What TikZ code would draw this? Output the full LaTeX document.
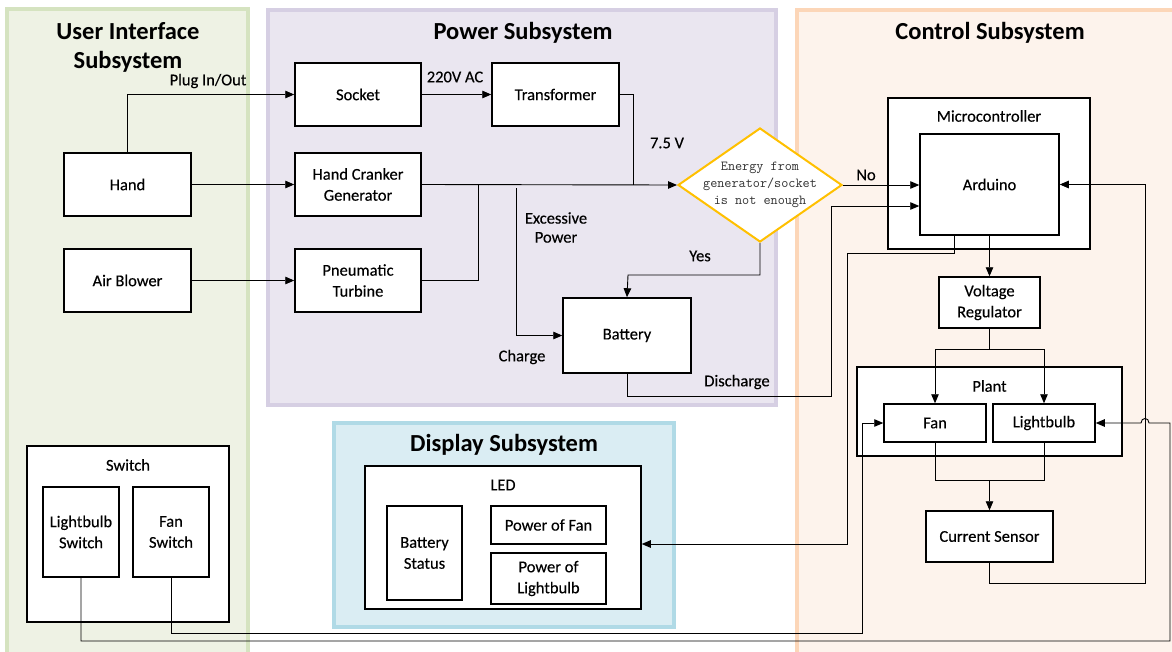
\documentclass[tikz,border=0pt]{standalone}
\usepackage{fontspec}
\setmainfont{Carlito}[UprightFeatures={FakeBold=0.3}]
\usetikzlibrary{arrows.meta,shapes.geometric,calc}
\definecolor{uifill}{HTML}{EEF2E4}
\definecolor{uiline}{HTML}{D5E3C0}
\definecolor{pwfill}{HTML}{EAE6F0}
\definecolor{pwline}{HTML}{D6CFE3}
\definecolor{ctfill}{HTML}{FDF3EC}
\definecolor{ctline}{HTML}{FCD6B8}
\definecolor{dsfill}{HTML}{DAEDF3}
\definecolor{dsline}{HTML}{B0DAE6}
\definecolor{dmline}{HTML}{FFC000}
\definecolor{dmtext}{HTML}{333333}
\begin{document}
\begin{tikzpicture}[x=1pt,y=-1pt,
  box/.style={draw, line width=1.5pt, fill=white, inner sep=1pt, align=center, font=\fontsize{16.5}{21}\selectfont},
  wire/.style={line width=0.9pt},
  arr/.style={wire, -{Triangle[length=9pt,width=7.5pt]}},
  lbl/.style={font=\fontsize{16.5}{19}\selectfont, align=center, inner sep=0pt},
  ttl/.style={font=\bfseries\fontsize{24.5}{29}\selectfont, align=center, inner sep=0pt},
  panel/.style={line width=4pt}]
\useasboundingbox (0,0) rectangle (1172,651);
\clip (0,0) rectangle (1172,651);
% panels
\draw[panel, draw=uiline, fill=uifill] (7,9) rectangle (248,670);
\draw[panel, draw=pwline, fill=pwfill] (268,10) rectangle (776,405);
\draw[panel, draw=ctline, fill=ctfill] (797,10) rectangle (1190,670);
\draw[panel, draw=dsline, fill=dsfill] (334,423) rectangle (674,627);
\node[ttl] (tui) at (128,47.5) {User Interface\\Subsystem};
\node[ttl] (tpw) at (523,33) {Power Subsystem};
\node[ttl] (tct) at (990,33) {Control Subsystem};
\node[ttl] (tds) at (504,445) {Display Subsystem};
% UI boxes
\node[box, minimum width=127pt, minimum height=63pt] (hand) at (127.5,184.5) {Hand};
\node[box, minimum width=127pt, minimum height=63pt] (blower) at (127.5,280.5) {Air Blower};
\node[box, minimum width=202pt, minimum height=176pt] (switch) at (128,534) {};
\node[lbl] (switchl) at (128,465) {Switch};
\node[box, minimum width=76pt, minimum height=90pt] (ls) at (81,532) {Lightbulb\\Switch};
\node[box, minimum width=76pt, minimum height=90pt] (fs) at (171,532) {Fan\\Switch};
% power boxes
\node[box, minimum width=126pt, minimum height=63pt] (socket) at (358,94.5) {Socket};
\node[box, minimum width=126pt, minimum height=63pt] (hcg) at (358,184.5) {Hand Cranker\\Generator};
\node[box, minimum width=126pt, minimum height=63pt] (pt) at (358,280.5) {Pneumatic\\Turbine};
\node[box, minimum width=127pt, minimum height=63pt] (trans) at (555.5,94.5) {Transformer};
\node[box, minimum width=128pt, minimum height=75pt] (battery) at (627,335.5) {Battery};
\node[diamond, draw=dmline, line width=2pt, fill=white, minimum width=164pt, minimum height=114pt, aspect=1.44, inner sep=0pt] (dm) at (760,185) {};
\node[font=\ttfamily\fontsize{13.8}{17}\selectfont, text=dmtext, align=center, inner sep=0pt] (dmt) at (760,185) {Energy from\\generator/socket\\is not enough};
% display
\node[box, minimum width=276pt, minimum height=143pt] (led) at (503,537.5) {};
\node[lbl] (ledl) at (503,485) {LED};
\node[box, minimum width=75pt, minimum height=94pt] (bs) at (424.5,553) {Battery\\Status};
\node[box, minimum width=115pt, minimum height=38pt] (pf) at (548.5,525) {Power of Fan};
\node[box, minimum width=115pt, minimum height=51pt] (pl) at (548.5,578.5) {Power of\\Lightbulb};
% control
\node[box, minimum width=202pt, minimum height=151pt] (mc) at (989,173.5) {};
\node[lbl] (mcl) at (989,116) {Microcontroller};
\node[box, minimum width=139pt, minimum height=101pt] (ard) at (989.5,184.5) {Arduino};
\node[box, minimum width=101pt, minimum height=51pt] (vr) at (989.5,302.5) {Voltage\\Regulator};
\node[box, minimum width=265pt, minimum height=89pt] (plant) at (989.5,411.5) {};
\node[lbl] (plantl) at (989.5,386) {Plant};
\node[box, minimum width=102pt, minimum height=38pt] (fan) at (935,423) {Fan};
\node[box, minimum width=102pt, minimum height=38pt] (bulb) at (1044,423) {Lightbulb};
\node[box, minimum width=127pt, minimum height=51pt] (cs) at (989.5,536.5) {Current Sensor};
% coordinates
\coordinate (j1) at (478,184.5);
\coordinate (j2) at (633,184.5);
\coordinate (ep) at (516,188);
\coordinate (yb) at (628,275);
\coordinate (dc) at (831,396);
\coordinate (dca) at (831,206);
\coordinate (cs1) at (1145,583);
\coordinate (a1) at (954,253);
\coordinate (a2) at (847,544);
\coordinate (vs) at (989.5,349);
\coordinate (cm) at (989.5,480);
\coordinate (fs1) at (862,633);
\coordinate (ls1) at (1170,641);
\coordinate (ls2) at (1170,423);
\coordinate (jpr) at (1149,423);
\coordinate (jpl) at (1141,423);
% wires
\draw[arr] (hand.north) |- (socket.west);
\node[lbl] (plug) at (208,81) {Plug In/Out};
\draw[arr] (hand) -- (hcg);
\draw[arr] (blower) -- (pt);
\draw[arr] (socket) -- (trans);
\node[lbl] (v220) at (455,77) {220V AC};
\draw[arr] (hcg.east) -- (dm.west);
\draw[wire] (pt.east) -| (j1);
\draw[wire] (trans.east) -| (j2);
\node[lbl] (v75) at (667,143) {7.5 V};
\draw[arr] (ep) |- (battery.west);
\node[lbl] (exc) at (556,227.5) {Excessive\\Power};
\node[lbl] (chg) at (522,357) {Charge};
\draw[arr] (dm.south) |- (yb) -- (battery.north);
\node[lbl] (yes) at (700,256) {Yes};
\draw[arr] (dm.east) -- (dm.east -| ard.west);
\node[lbl] (no) at (866,175) {No};
\draw[arr] (battery.south) |- (dc) -- (dca) -- (dca -| ard.west);
\node[lbl] (dis) at (737,382) {Discharge};
\draw[arr] (cs.south) |- (cs1) |- (ard.east);
\draw[arr] (ard.south) -- (vr.north);
\draw[arr] (a1 |- ard.south) -- (a1) -| (a2) -- (a2 -| led.east);
\draw[wire] (vr.south) -- (vs);
\draw[arr] (vs) -| (fan.north);
\draw[arr] (vs) -| (bulb.north);
\draw[wire] (fan.south) |- (cm);
\draw[wire] (bulb.south) |- (cm);
\draw[arr] (cm) -- (cs.north);
\draw[arr] (fs.south) |- (fs1) |- (fan.west);
\draw[arr] (ls.south) |- (ls1) -- (ls2) -- (jpr) .. controls (1149,417) and (1141,417) .. (jpl) -- (bulb.east);
\end{tikzpicture}
\end{document}
